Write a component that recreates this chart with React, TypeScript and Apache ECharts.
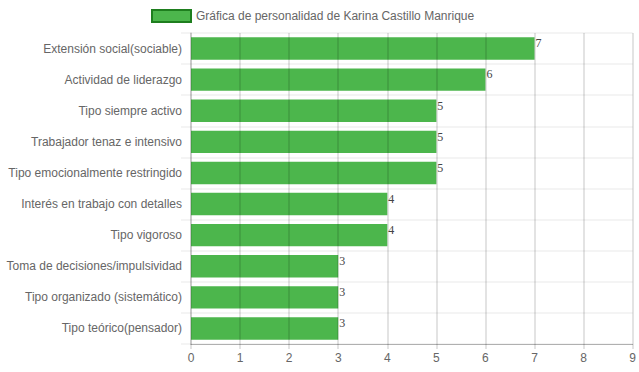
import React, { useEffect, useRef } from "react";
import * as echarts from "echarts";

const categories = [
  "Extensión social(sociable)",
  "Actividad de liderazgo",
  "Tipo siempre activo",
  "Trabajador tenaz e intensivo",
  "Tipo emocionalmente restringido",
  "Interés en trabajo con detalles",
  "Tipo vigoroso",
  "Toma de decisiones/impulsividad",
  "Tipo organizado (sistemático)",
  "Tipo teórico(pensador)",
];
const values = [7, 6, 5, 5, 5, 4, 4, 3, 3, 3];
const seriesName = "Gráfica de personalidad de Karina Castillo Manrique";

const FONT = '"Liberation Sans", Arial, Helvetica, sans-serif';

export default function App() {
  const ref = useRef<HTMLDivElement>(null);
  useEffect(() => {
    if (!ref.current) return;
    const chart = echarts.init(ref.current, undefined, { renderer: "svg" });
    chart.setOption({
      animation: false,
      textStyle: { fontFamily: FONT },
      legend: {
        top: 4,
        left: 146,
        itemWidth: 39,
        itemHeight: 12,
        itemGap: 10,
        textStyle: { color: "#666", fontSize: 12, fontFamily: FONT },
        data: [
          {
            name: seriesName,
            icon: "rect",
            itemStyle: { color: "#4CB64C", borderColor: "#1E7E1E", borderWidth: 2 },
          },
        ],
      },
      grid: { left: 191, right: 6, top: 33, bottom: 28, containLabel: false },
      xAxis: {
        type: "value",
        min: 0,
        max: 9,
        interval: 1,
        z: 10,
        axisLine: { show: true, lineStyle: { color: "rgba(0,0,0,0.28)", width: 1 } },
        axisTick: { show: true, length: 5, lineStyle: { color: "rgba(0,0,0,0.15)", width: 1.5 } },
        axisLabel: { color: "#666", fontSize: 12, margin: 8, fontFamily: FONT },
        splitLine: { show: true, lineStyle: { color: "rgba(0,0,0,0.15)", width: 1.5 } },
      },
      yAxis: {
        type: "category",
        data: categories,
        inverse: true,
        axisLine: { show: true, lineStyle: { color: "rgba(0,0,0,0.15)", width: 1.5 } },
        axisTick: { show: true, length: 10, lineStyle: { color: "rgba(0,0,0,0.06)", width: 1.5 } },
        axisLabel: { color: "#666", fontSize: 12, margin: 9, fontFamily: FONT },
        splitLine: { show: true, lineStyle: { color: "rgba(0,0,0,0.06)", width: 1.5 } },
      },
      series: [
        {
          name: seriesName,
          type: "bar",
          data: values,
          barWidth: "72%",
          itemStyle: { color: "#4CB64C" },
          label: {
            show: true,
            position: ["100%", 0],
            align: "left",
            verticalAlign: "top",
            offset: [1, 0],
            color: "#444",
            fontSize: 12,
            fontFamily: '"Liberation Serif", "Times New Roman", serif',
          },
        },
      ],
    });
    return () => chart.dispose();
  }, []);
  return <div ref={ref} style={{ width: 639, height: 372, position: "absolute", left: 0, top: 0 }} />;
}
